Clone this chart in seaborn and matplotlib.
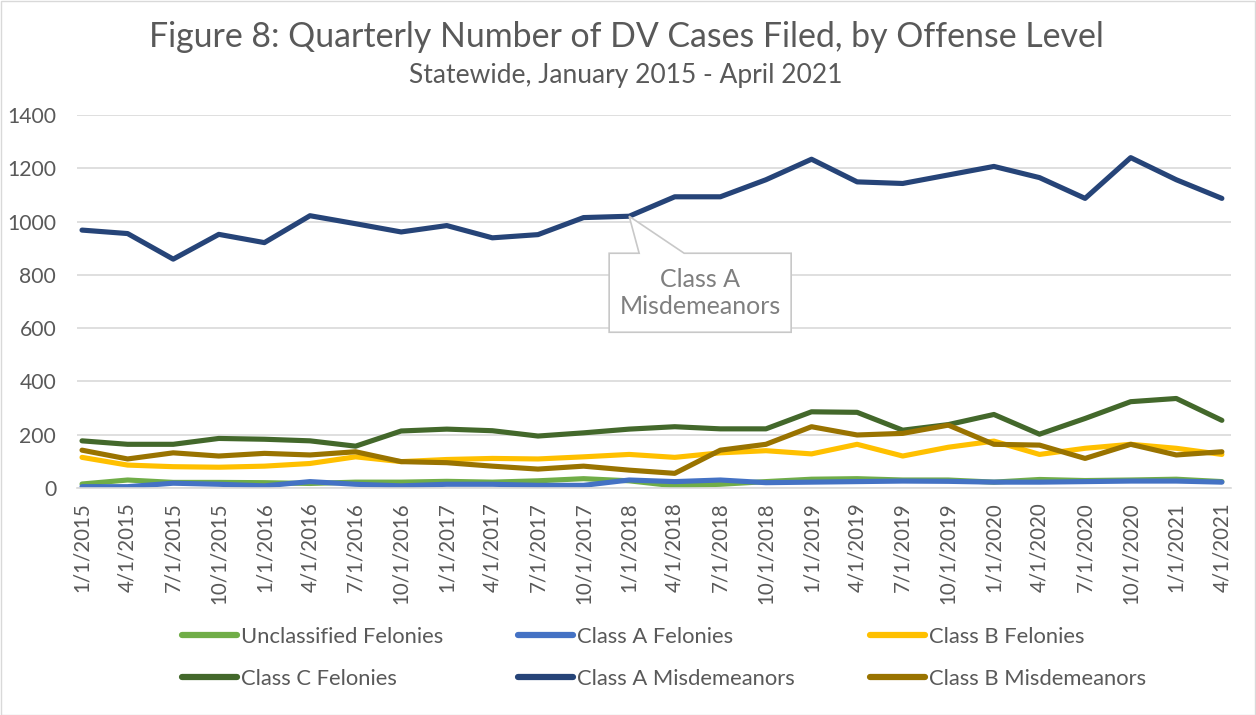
import numpy as np
import pandas as pd
import matplotlib
matplotlib.use("Agg")
import matplotlib.pyplot as plt
import seaborn as sns
from matplotlib.lines import Line2D
from matplotlib.patches import Polygon, Rectangle
from matplotlib.transforms import IdentityTransform

# ---------------- data ----------------
dates = ["1/1/2015", "4/1/2015", "7/1/2015", "10/1/2015", "1/1/2016", "4/1/2016",
         "7/1/2016", "10/1/2016", "1/1/2017", "4/1/2017", "7/1/2017", "10/1/2017",
         "1/1/2018", "4/1/2018", "7/1/2018", "10/1/2018", "1/1/2019", "4/1/2019",
         "7/1/2019", "10/1/2019", "1/1/2020", "4/1/2020", "7/1/2020", "10/1/2020",
         "1/1/2021", "4/1/2021"]

unclassified_felonies = [15, 30, 21, 21, 20, 17, 22, 22, 25, 22, 27, 35, 27, 8, 14, 24,
                         33, 35, 30, 30, 22, 32, 28, 30, 33, 24]
class_a_felonies = [5, 5, 18, 14, 8, 24, 14, 8, 14, 14, 10, 10, 30, 24, 30, 20,
                    22, 24, 26, 25, 22, 22, 24, 26, 26, 22]
class_b_felonies = [115, 86, 80, 78, 82, 92, 117, 99, 107, 111, 109, 117, 126, 115, 132, 140,
                    128, 164, 120, 153, 176, 126, 149, 164, 149, 126]
class_c_felonies = [177, 164, 164, 186, 183, 177, 157, 214, 221, 215, 195, 207, 221, 230, 222, 222,
                    286, 284, 217, 238, 276, 202, 261, 324, 336, 254]
class_a_misdemeanors = [968, 955, 859, 952, 921, 1022, 992, 961, 985, 939, 951, 1015, 1020, 1093, 1093, 1157,
                        1234, 1149, 1143, 1175, 1207, 1165, 1087, 1240, 1157, 1087]
class_b_misdemeanors = [142, 109, 132, 120, 130, 124, 136, 99, 95, 82, 71, 82, 67, 55, 142, 164,
                        230, 199, 205, 236, 164, 161, 111, 164, 124, 136]

series_names = ["Unclassified Felonies", "Class A Felonies", "Class B Felonies",
                "Class C Felonies", "Class A Misdemeanors", "Class B Misdemeanors"]
series_values = [unclassified_felonies, class_a_felonies, class_b_felonies,
                 class_c_felonies, class_a_misdemeanors, class_b_misdemeanors]
colors = ["#70AD47", "#4472C4", "#FFC000", "#43682B", "#264478", "#997300"]

title = "Figure 8: Quarterly Number of DV Cases Filed, by Offense Level"
subtitle = "Statewide, January 2015 - April 2021"
callout_text = "Class A\nMisdemeanors"

rows = []
for name, vals in zip(series_names, series_values):
    for i, v in enumerate(vals):
        rows.append({"idx": i, "value": v, "series": name})
df = pd.DataFrame(rows)

# ---------------- style ----------------
sns.set_theme(style="white")
plt.rcParams["font.family"] = ["Lato", "DejaVu Sans"]
TXT = "#595959"

fig = plt.figure(figsize=(12.56, 7.15), dpi=100)
W, H = 1256, 715
ax = fig.add_axes([77 / W, 1 - 488 / H, (1231 - 77) / W, (488 - 115) / H])

sns.lineplot(data=df, x="idx", y="value", hue="series", hue_order=series_names,
             palette=dict(zip(series_names, colors)), linewidth=3.7, legend=False,
             ax=ax, sort=False)
for ln in ax.lines:
    ln.set_solid_capstyle("round")
    ln.set_solid_joinstyle("round")

ax.set_xlim(-0.11, 25.2)
ax.set_ylim(0, 1400)
ax.set_yticks(np.arange(0, 1401, 200))
ax.yaxis.grid(True, color="#D9D9D9", linewidth=1.2)
ax.set_axisbelow(True)
for s in ["top", "right", "left"]:
    ax.spines[s].set_visible(False)
ax.spines["bottom"].set_color("#D9D9D9")
ax.spines["bottom"].set_linewidth(1.2)

ax.set_xticks(range(len(dates)))
ax.set_xticklabels(dates, rotation=90, fontsize=14.8, color=TXT)
ax.tick_params(axis="x", length=0, pad=10)
ax.set_xticks([i - 0.1 for i in range(len(dates))], minor=True)
ax.tick_params(axis="x", which="minor", length=6, color="#D9D9D9", width=1.2)
ax.tick_params(axis="y", length=0, labelsize=15.2, labelcolor=TXT, pad=15)
ax.set_xlabel("")
ax.set_ylabel("")

# titles
fig.text(626 / W, 1 - 37 / H, title, ha="center", va="center", fontsize=24.4, color=TXT)
fig.text(626 / W, 1 - 76 / H, subtitle, ha="center", va="center", fontsize=19, color=TXT)

# callout anchored at the 1/1/2018 Class A Misdemeanors point
fig.canvas.draw()
ax_, ay_ = ax.transData.transform((12, class_a_misdemeanors[12]))
offs = [(0, 0), (55, 37), (162, 37), (162, 116), (-20, 116), (-20, 37), (10, 37)]
verts = [(ax_ + dx, ay_ - dy) for dx, dy in offs]
poly = Polygon(verts, closed=True, facecolor="white", edgecolor="#C8C8C8", linewidth=1.2,
               transform=IdentityTransform(), zorder=10)
fig.patches.append(poly)
fig.text(ax_ + 71, ay_ - 77, callout_text, transform=IdentityTransform(), ha="center",
         va="center", fontsize=18, color="#7F7F7F", linespacing=1.2, zorder=11)

# legend (row-wise order in 3 columns)
handles = [Line2D([0], [0], color=c, linewidth=4.5, solid_capstyle="round") for c in colors]
order = [0, 3, 1, 4, 2, 5]
fig.legend([handles[i] for i in order], [series_names[i] for i in order],
           ncol=3, loc="center", bbox_to_anchor=(664 / W, 1 - 658 / H), frameon=False,
           fontsize=15.8, labelcolor=TXT, handlelength=2.5, handletextpad=0.2,
           columnspacing=3.4, labelspacing=1.0)

# chart-area border
fig.patches.append(Rectangle((0.5 / W, 0.5 / H), 1 - 1.5 / W, 1 - 1.5 / H, fill=False,
                             edgecolor="#D9D9D9", linewidth=1.0, transform=fig.transFigure))

fig.savefig("out.png", dpi=100)
